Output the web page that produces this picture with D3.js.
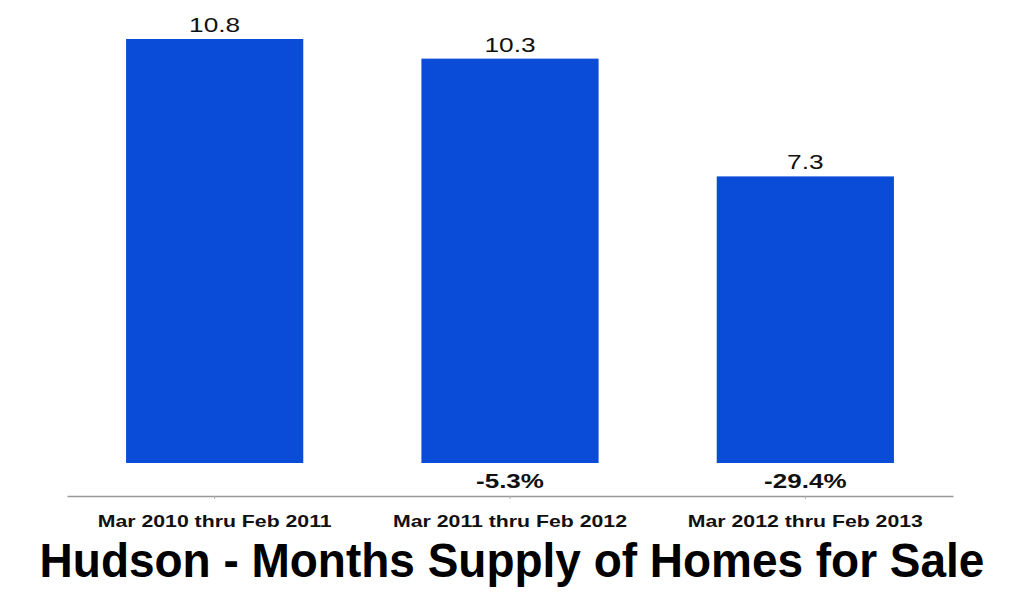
<!DOCTYPE html>
<html>
<head>
<meta charset="utf-8">
<script src="https://cdn.jsdelivr.net/npm/d3@7"></script>
<style>
  body { margin: 0; background: #fff; }
  svg { display: block; font-family: "Liberation Sans", Arial, sans-serif; }
</style>
</head>
<body>
<div id="chart"></div>
<script>
// Hudson - months supply of homes

var width = 1024
var height = 597;

var periods = ["Mar 2010 thru Feb 2011", "Mar 2011 thru Feb 2012", "Mar 2012 thru Feb 2013"];
var supply = [10.8, 10.3, 7.3];
var changes = ["", "-5.3%", "-29.4%"];
var title = "Hudson - Months Supply of Homes for Sale";

var data = periods.map(function(p, i) {
	return {name: p, value: supply[i], change: changes[i]};
});

// the lettering in the original is a bit wider than Liberation Sans
function widen(sel, factor) {
	sel.each(function() {
		var len = this.getComputedTextLength();
		if (len > 0) {
			d3.select(this)
				.attr("textLength", len * factor)
				.attr("lengthAdjust", "spacingAndGlyphs");
		}
	});
}

var svg = d3.select("#chart")
			.append("svg")
			.attr("width", width)
			.attr("height", height);

var xScale = d3.scaleBand()
			.domain(periods)
			.range([67, 953])
			.paddingInner(0.4)
			.paddingOuter(0.2);

var yScale = d3.scaleLinear()
			.domain([0, 10.8])
			.range([463, 39]);

// bars
svg.append("g").selectAll("rect")
	.data(data)
	.enter()
	.append("rect")
		.attr("x", function(d) { return xScale(d.name); })
		.attr("y", function(d) { return yScale(d.value); })
		.attr("width", xScale.bandwidth())
		.attr("height", function(d) { return yScale(0) - yScale(d.value); })
		.style("fill", "#0a4bd8");

// value labels
var vals = svg.append("g").selectAll("text")
	.data(data)
	.enter()
	.append("text")
		.attr("x", function(d) { return xScale(d.name) + xScale.bandwidth() / 2; })
		.attr("y", function(d) { return yScale(d.value) - 7; })
		.attr("text-anchor", "middle")
		.attr("font-size", "21px")
		.attr("fill", "#111")
		.text(function(d) { return d.value.toFixed(1); });
widen(vals, 1.25);

// change labels under bars
var pct = svg.append("g").selectAll("text")
	.data(data)
	.enter()
	.append("text")
		.attr("x", function(d) { return xScale(d.name) + xScale.bandwidth() / 2; })
		.attr("y", 488)
		.attr("text-anchor", "middle")
		.attr("font-size", "20px")
		.attr("font-weight", "bold")
		.attr("fill", "#111")
		.text(function(d) { return d.change; });
widen(pct, 1.3);

// x axis
var xAxis = d3.axisBottom(xScale)
			.tickSize(3)
			.tickSizeOuter(0)
			.tickPadding(16);

var gx = svg.append("g")
	.attr("class", "x axis")
	.attr("transform", "translate(0,496)")
	.call(xAxis);

gx.select(".domain").attr("stroke", "#999").attr("stroke-width", 1.5);
gx.selectAll(".tick line").attr("stroke", "#aaa");
gx.selectAll(".tick text")
	.attr("font-family", "'Liberation Sans', Arial, sans-serif")
	.attr("font-size", "17px")
	.attr("font-weight", "bold")
	.attr("fill", "#111");
widen(gx.selectAll(".tick text"), 1.25);

// title - condensed by scaling the group so it fits 945px
var tg = svg.append("g");
var tt = tg.append("text")
	.attr("x", 0)
	.attr("y", 0)
	.attr("text-anchor", "middle")
	.attr("font-family", "'Liberation Sans', Arial, sans-serif")
	.attr("font-size", "49px")
	.attr("font-weight", "bold")
	.attr("fill", "#000")
	.text(title);
var sx = 945 / tt.node().getComputedTextLength();
tg.attr("transform", "translate(512,577) scale(" + sx + ",1)");
</script>
</body>
</html>
